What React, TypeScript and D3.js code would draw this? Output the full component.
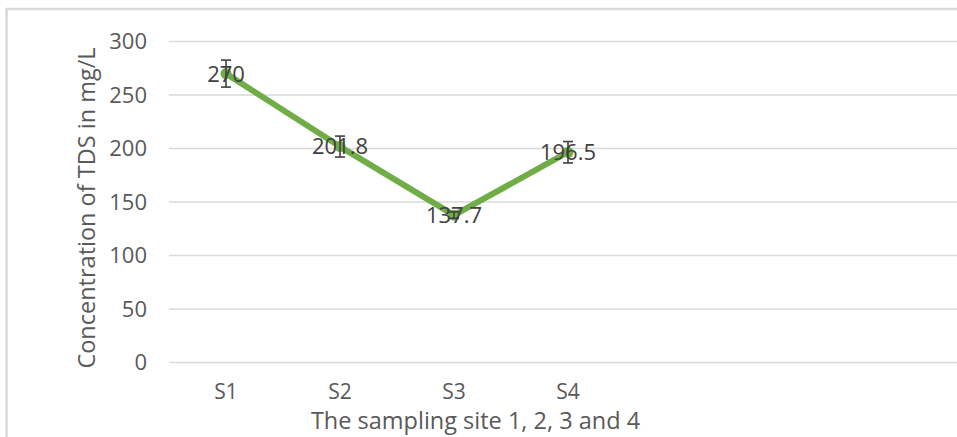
import React from 'react'
import * as d3 from 'd3'

const categories = ['S1', 'S2', 'S3', 'S4']
const tdsValues = [270, 201.8, 137.7, 196.5]
const tdsErrors = [12.6, 9.8, 3, 10]
const yTicks = [0, 50, 100, 150, 200, 250, 300]

const App = () => {
    const width = 957
    const height = 437
    const font = '"Open Sans", "DejaVu Sans", sans-serif'

    const x = d3
          .scaleBand()
          .domain(categories)
          .range([169, 625])

    const y = d3
          .scaleLinear()
          .domain([0, 300])
          .range([362.5, 41.5])

    const cx = (c: string) => (x(c) as number) + x.bandwidth() / 2

    const line = d3
          .line<number>()
          .x((d, i) => cx(categories[i]))
          .y(d => y(d))

    return (
        <svg
            width={width}
            height={height}
            style={{ position: 'absolute', left: 0, top: 0, background: '#fff' }}
            fontFamily={font}
        >
            <rect x={0} y={0} width={width} height={height} fill="#fff" />
            <rect x={6.5} y={9} width={980} height={460} fill="none" stroke="#d9d9d9" strokeWidth={2.5} />

            {/* grid */}
            {yTicks.map(t => (
                <line key={`g${t}`} x1={169} x2={width} y1={y(t)} y2={y(t)} stroke="#d9d9d9" strokeWidth={1.6} />
            ))}
            {yTicks.map(t => (
                <text key={`t${t}`} x={147} y={y(t)} dy="0.36em" textAnchor="end" fontSize={22} fill="#595959">
                    {t}
                </text>
            ))}

            {categories.map(c => (
                <text key={`c${c}`} x={cx(c)} y={399} textAnchor="middle" fontSize={21} fill="#595959">
                    {c}
                </text>
            ))}

            <text x={475.5} y={429} textAnchor="middle" fontSize={23.5} fill="#595959">
                The sampling site 1, 2, 3 and 4
            </text>
            <text
                transform="translate(95, 208) rotate(-90)"
                textAnchor="middle"
                fontSize={23.5}
                fill="#595959"
            >
                Concentration of TDS in mg/L
            </text>

            <path d={line(tdsValues) || ''} fill="none" stroke="#70ad47" strokeWidth={6} strokeLinejoin="round" />
            {tdsValues.map((v, i) => (
                <circle key={`m${i}`} cx={cx(categories[i])} cy={y(v)} r={5.5} fill="#70ad47" />
            ))}

            {/* error bars */}
            {tdsValues.map((v, i) => {
                const px = cx(categories[i])
                const top = y(v + tdsErrors[i])
                const bot = y(v - tdsErrors[i])
                return (
                    <g key={`e${i}`} stroke="#404040" strokeWidth={1.6}>
                        <line x1={px} x2={px} y1={top} y2={bot} />
                        <line x1={px - 5} x2={px + 5} y1={top} y2={top} />
                        <line x1={px - 5} x2={px + 5} y1={bot} y2={bot} />
                    </g>
                )
            })}

            {tdsValues.map((v, i) => (
                <text key={`l${i}`} x={cx(categories[i])} y={y(v)} dy="0.36em" textAnchor="middle" fontSize={22} fill="#404040">
                    {v}
                </text>
            ))}
        </svg>
    )
}

export default App
